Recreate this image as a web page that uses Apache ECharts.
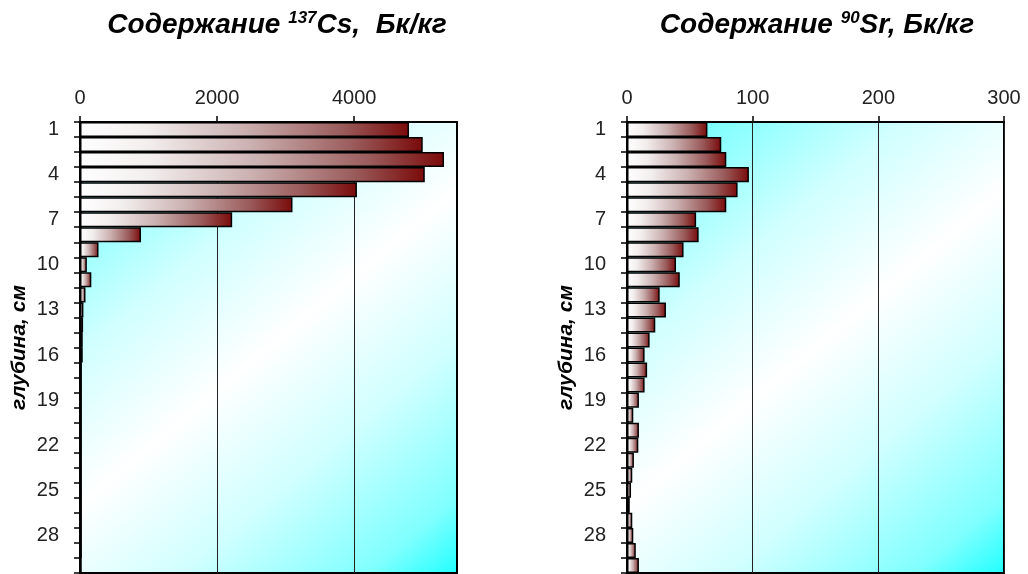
<!DOCTYPE html>
<html>
<head>
<meta charset="utf-8">
<script src="https://cdn.jsdelivr.net/npm/echarts@6/dist/echarts.min.js"></script>
<style>
  html, body { margin: 0; padding: 0; background: #fff; }
  #chart { width: 1028px; height: 574px; }
</style>
</head>
<body>
<div id="chart"></div>
<script>
// глубина, см (1..30)
var depths = []
for (var d = 1; d <= 30; d++) depths.push(String(d))

// Содержание 137Cs, Бк/кг
var cs137 = [4800, 5000, 5310, 5030, 4040, 3100, 2220, 890, 270, 100,
  165, 80, 50, 45, 40, 40, 25, 25, 25, 25,
  25, 25, 25, 25, 25, 25, 25, 25, 25, 0]

// Содержание 90Sr, Бк/кг
var sr90 = [64, 75, 79, 97, 88, 79, 55, 57, 45, 39,
  42, 26, 31, 22.5, 18, 14, 16, 14, 9.5, 5,
  9.5, 9, 5.5, 4.2, 3.2, 2.2, 4.2, 5, 7, 9.5]

var csTicks = [0, 2000, 4000]
var srTicks = [0, 100, 200, 300]

var myChart = echarts.init(document.getElementById('chart'))

var bgFill = new echarts.graphic.LinearGradient(0, 0, 1, 1, [
  {offset: 0, color: '#20ffff'},
  {offset: 0.1, color: '#80ffff'},
  {offset: 0.3, color: '#d0ffff'},
  {offset: 0.5, color: '#ffffff'},
  {offset: 0.7, color: '#d0ffff'},
  {offset: 0.9, color: '#80ffff'},
  {offset: 1, color: '#20ffff'}
])

var barFill = new echarts.graphic.LinearGradient(0, 0, 1, 0, [
  {offset: 0, color: '#ffffff'},
  {offset: 0.2, color: '#f3eeee'},
  {offset: 0.5, color: '#cbb0b0'},
  {offset: 0.8, color: '#9a5a5a'},
  {offset: 1, color: '#7a0a0a'}
])

var fam = 'Liberation Sans, Arial'
var titleRich = {
  a: {fontSize: 28, fontWeight: 'bold', fontStyle: 'italic', fontFamily: fam, color: '#000'},
  s: {fontSize: 17, fontWeight: 'bold', fontStyle: 'italic', fontFamily: fam, color: '#000', padding: [0, 0, 14, 0]}
}

function xAxisOf (idx, max, interval, ticks) {
  return {
    gridIndex: idx,
    type: 'value',
    position: 'top',
    min: 0,
    max: max,
    interval: interval,
    axisLine: {show: true, lineStyle: {color: '#000', width: 2}},
    axisTick: {show: true, inside: false, length: 6, customValues: ticks, lineStyle: {color: '#000', width: 1.5}},
    axisLabel: {margin: 14, fontSize: 20, color: '#222', fontFamily: fam, customValues: ticks,
      formatter: function (v) { return String(v) }},
    splitLine: {show: true, lineStyle: {color: '#222', width: 1}}
  }
}

function yAxisOf (idx) {
  return {
    gridIndex: idx,
    type: 'category',
    inverse: true,
    data: depths,
    name: 'глубина, см',
    nameLocation: 'middle',
    nameRotate: 90,
    nameGap: 50,
    nameTextStyle: {fontSize: 21, fontWeight: 'bold', fontStyle: 'italic', fontFamily: fam, color: '#000'},
    axisLine: {show: true, lineStyle: {color: '#000', width: 2.5}},
    axisTick: {show: true, interval: 0, alignWithLabel: false, length: 6, lineStyle: {color: '#000', width: 1.5}},
    axisLabel: {interval: 2, margin: 21, fontSize: 20, color: '#222', fontFamily: fam},
    splitLine: {show: false}
  }
}

function barSeries (idx, data) {
  return {
    type: 'bar',
    xAxisIndex: idx,
    yAxisIndex: idx,
    data: data,
    barCategoryGap: '0%',
    itemStyle: {color: barFill, borderColor: '#000', borderWidth: 1.5},
    emphasis: {disabled: true}
  }
}

myChart.setOption({
  backgroundColor: '#fff',
  animation: false,
  title: [
    {text: '{a|Содержание }{s|137}{a|Cs,  Бк/кг}', left: 272, top: 5, textAlign: 'center', textStyle: {rich: titleRich}},
    {text: '{a|Содержание }{s|90}{a|Sr, Бк/кг}', left: 812, top: 5, textAlign: 'center', textStyle: {rich: titleRich}}
  ],
  grid: [
    {left: 80, right: 571, top: 122, bottom: 1, show: true, backgroundColor: bgFill, borderColor: '#000', borderWidth: 2},
    {left: 627, right: 24, top: 122, bottom: 1, show: true, backgroundColor: bgFill, borderColor: '#000', borderWidth: 2}
  ],
  xAxis: [
    xAxisOf(0, 5500, 2000, csTicks),
    xAxisOf(1, 300, 100, srTicks)
  ],
  yAxis: [yAxisOf(0), yAxisOf(1)],
  series: [barSeries(0, cs137), barSeries(1, sr90)]
})
</script>
</body>
</html>
